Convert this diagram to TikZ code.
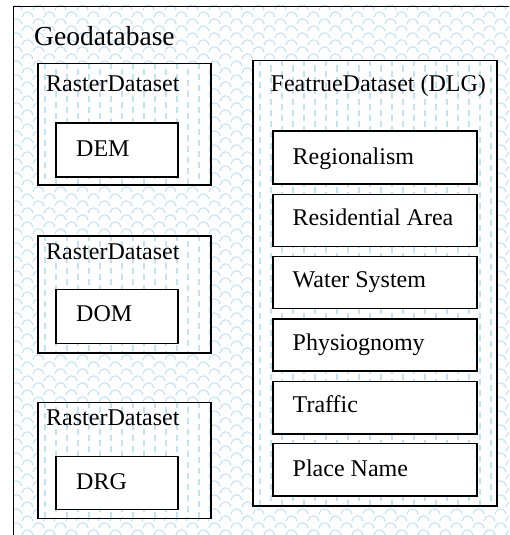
\documentclass[tikz,border=0pt]{standalone}
\usepackage{fontspec}
\setmainfont{Liberation Serif}
\newfontfamily\tnr{Liberation Serif}
\usetikzlibrary{patterns}
\definecolor{patblue}{RGB}{190,226,247}
\pgfdeclarepatternformonly{scales}{\pgfqpoint{-1pt}{-1pt}}{\pgfqpoint{23pt}{15pt}}{\pgfqpoint{22pt}{14pt}}{%
  \pgfsetlinewidth{1pt}%
  \pgfpathmoveto{\pgfqpoint{0pt}{0pt}}%
  \pgfpathcurveto{\pgfqpoint{2pt}{7pt}}{\pgfqpoint{9pt}{7pt}}{\pgfqpoint{11pt}{0pt}}%
  \pgfpathmoveto{\pgfqpoint{11pt}{7pt}}%
  \pgfpathcurveto{\pgfqpoint{13pt}{14pt}}{\pgfqpoint{20pt}{14pt}}{\pgfqpoint{22pt}{7pt}}%
  \pgfpathmoveto{\pgfqpoint{-11pt}{7pt}}%
  \pgfpathcurveto{\pgfqpoint{-9pt}{14pt}}{\pgfqpoint{-2pt}{14pt}}{\pgfqpoint{0pt}{7pt}}%
  \pgfpathmoveto{\pgfqpoint{0pt}{14pt}}%
  \pgfpathcurveto{\pgfqpoint{2pt}{21pt}}{\pgfqpoint{9pt}{21pt}}{\pgfqpoint{11pt}{14pt}}%
  \pgfpathmoveto{\pgfqpoint{11pt}{-7pt}}%
  \pgfpathcurveto{\pgfqpoint{13pt}{0pt}}{\pgfqpoint{20pt}{0pt}}{\pgfqpoint{22pt}{-7pt}}%
  \pgfusepath{stroke}%
}
\tikzset{
  x=1pt, y=-1pt,
  outerbox/.style={draw=black, line width=1.4pt, anchor=north west, inner sep=0pt},
  setbox/.style={draw=black, line width=1.5pt, anchor=north west, inner sep=0pt},
  itembox/.style={draw=black, line width=1.5pt, fill=white, anchor=north west, inner sep=0pt},
  lbl/.style={anchor=base west, inner sep=0pt, font=\tnr\fontsize{24}{28}\selectfont},
  biglbl/.style={anchor=base west, inner sep=0pt, font=\tnr\fontsize{27.5}{32}\selectfont},
  dashcol/.style={draw=patblue, line width=1.2pt, dash pattern=on 6pt off 5pt},
}
\newcommand{\dashfill}[4]{% x1 y1 x2 y2
  \begin{scope}
    \clip (#1,#2) rectangle (#3,#4);
    \fill[white] (#1,#2) rectangle (#3,#4);
    \foreach \i in {0,...,25} {
      \pgfmathsetmacro{\xx}{#1+8+11*\i}
      \pgfmathsetmacro{\off}{mod(\i,2)*5.5}
      \draw[dashcol, dash phase=\off pt] (\xx,#2) -- (\xx,#4);
    }
  \end{scope}
}
\begin{document}
\begin{tikzpicture}
\useasboundingbox (0,0) rectangle (509,535);
\clip (0,0) rectangle (509,535);
% outer geodatabase box
\fill[white] (13,6) rectangle (520,545);
\fill[pattern=scales, pattern color=patblue] (13,6) rectangle (520,545);
\node[outerbox, minimum width=520pt, minimum height=545pt] (geo) at (13,6) {};
\node[biglbl] (geot) at (34,46) {Geodatabase};

% raster datasets
\dashfill{37}{63}{210}{184}
\node[setbox, minimum width=173pt, minimum height=121pt] (r1) at (37,63) {};
\node[lbl] (r1t) at (46,91.5) {RasterDataset};
\node[itembox, minimum width=122pt, minimum height=54pt] (dem) at (55,122) {};
\node[lbl] (demt) at (76,156) {DEM};

\dashfill{37}{235}{210}{352}
\node[setbox, minimum width=173pt, minimum height=117pt] (r2) at (37,235) {};
\node[lbl] (r2t) at (46,259.5) {RasterDataset};
\node[itembox, minimum width=122pt, minimum height=54pt] (dom) at (55,288.5) {};
\node[lbl] (domt) at (76,321.5) {DOM};

\dashfill{37}{401.5}{210}{517.5}
\node[setbox, minimum width=173pt, minimum height=116pt] (r3) at (37,401.5) {};
\node[lbl] (r3t) at (46,425) {RasterDataset};
\node[itembox, minimum width=122pt, minimum height=53pt] (drg) at (55,455.5) {};
\node[lbl] (drgt) at (76,489.5) {DRG};

% feature dataset
\dashfill{252}{60}{496}{505}
\node[setbox, minimum width=244pt, minimum height=445pt] (fd) at (252,60) {};
\node[lbl] (fdt) at (270.5,91.5) {FeatrueDataset (DLG)};

\node[itembox, minimum width=204pt, minimum height=53pt] (i1) at (272,130) {};
\node[lbl] (i1t) at (292.5,164) {Regionalism};
\node[itembox, minimum width=204pt, minimum height=52pt] (i2) at (272,193.5) {};
\node[lbl] (i2t) at (292.5,225) {Residential Area};
\node[itembox, minimum width=204pt, minimum height=52pt] (i3) at (272,255.5) {};
\node[lbl] (i3t) at (292.5,287.5) {Water System};
\node[itembox, minimum width=204pt, minimum height=52pt] (i4) at (272,318) {};
\node[lbl] (i4t) at (292.5,350) {Physiognomy};
\node[itembox, minimum width=204pt, minimum height=52.5pt] (i5) at (272,380.5) {};
\node[lbl] (i5t) at (292.5,412.5) {Traffic};
\node[itembox, minimum width=204pt, minimum height=52.5pt] (i6) at (272,442.5) {};
\node[lbl] (i6t) at (292.5,476) {Place Name};
\end{tikzpicture}
\end{document}
